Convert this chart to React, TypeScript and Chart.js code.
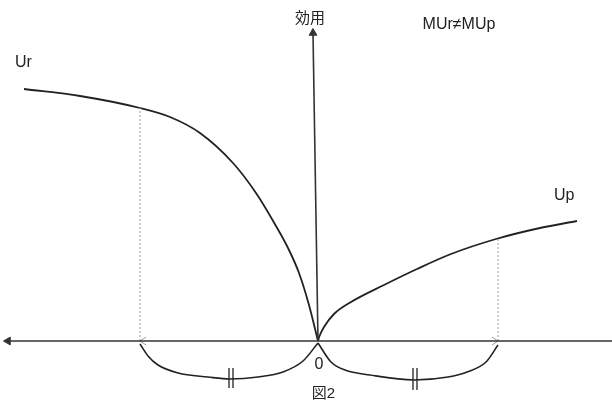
import React, { useEffect, useRef } from "react";
import { Chart, registerables } from "chart.js";

Chart.register(...registerables);

// Curves (x: quantity, origin at 0; y: utility)
const urX = [-294, -238, -178, -148, -118, -85, -62, -42, -29, -19, -9, 0];
const urY = [252, 245, 233, 224, 208, 178, 148, 115, 91, 68, 36, 0];
const upX = [0, 1.5, 6, 16, 33, 66, 99, 133, 178, 222, 259];
const upY = [0, 5, 14, 27, 39, 56, 72, 87, 102, 113, 120];

// Braces under the axis
const braceLX = [-178, -170, -160, -140, -110, -88, -60, -35, -15, 0];
const braceLY = [-3, -15, -24, -32, -36, -38, -36, -31, -20, -2];
const braceRX = [0, 13, 27, 52, 96, 130, 149, 168, 180];
const braceRY = [-2, -21, -29, -34, -39, -36, -31, -21, -4];
const tickMarksX = [-89, -85, 95, 99];
const tickMarksTop = [-27, -27, -27, -27];
const tickMarksBottom = [-47, -47, -49, -49];

// Guides
const guideX = [-178, 180];
const guideTop = [233, 104];

// Axes
const hAxisX = [-310, 294];
const vAxisTop = [-5, 308];

const labels = [
  { text: "効用", x: -8, y: 322, align: "center", base: "middle", size: 15 },
  { text: "MUr≠MUp", x: 141, y: 312, align: "center", base: "alphabetic", size: 16 },
  { text: "Ur", x: -303, y: 274, align: "left", base: "alphabetic", size: 16 },
  { text: "Up", x: 236, y: 141, align: "left", base: "alphabetic", size: 16 },
  { text: "0", x: 1, y: -28, align: "center", base: "alphabetic", size: 16 },
  { text: "図2", x: 5.5, y: -53, align: "center", base: "middle", size: 15 },
];

const zip = (xs: number[], ys: number[]) => xs.map((x, i) => ({ x, y: ys[i] }));

const labelPlugin = {
  id: "labels",
  afterDatasetsDraw(chart: any) {
    const { ctx, scales } = chart;
    ctx.save();
    ctx.fillStyle = "#222";
    for (const l of labels) {
      ctx.font = `${l.size}px "Liberation Sans", Arial, "Noto Sans CJK JP", sans-serif`;
      ctx.textAlign = l.align as CanvasTextAlign;
      ctx.textBaseline = l.base as CanvasTextBaseline;
      ctx.fillText(l.text, scales.x.getPixelForValue(l.x), scales.y.getPixelForValue(l.y));
    }
    ctx.restore();
  },
};

export default function App() {
  const ref = useRef<HTMLCanvasElement>(null);
  useEffect(() => {
    document.body.style.margin = "0";
    const curve = (data: any[], width = 1.8) => ({
      data,
      showLine: true,
      borderColor: "#222",
      borderWidth: width,
      pointRadius: 0,
      cubicInterpolationMode: "monotone" as const,
      fill: false,
    });
    const line = (data: any[], color: string, width: number, dash: number[] = []) => ({
      data,
      showLine: true,
      borderColor: color,
      borderWidth: width,
      borderDash: dash,
      pointRadius: 0,
      tension: 0,
      fill: false,
    });
    const datasets: any[] = [
      line([{ x: hAxisX[0], y: 0 }, { x: hAxisX[1], y: 0 }], "#333", 1.6),
      line([{ x: 0, y: 0 }, { x: vAxisTop[0], y: vAxisTop[1] }], "#333", 1.6),
      ...guideX.map((gx, i) => line([{ x: gx, y: 0 }, { x: gx, y: guideTop[i] }], "#999", 1, [2, 2])),
      line([{ x: guideX[0] + 6, y: 4 }, { x: guideX[0], y: 0 }, { x: guideX[0] + 6, y: -4 }], "#999", 1),
      line([{ x: guideX[1] - 6, y: 4 }, { x: guideX[1], y: 0 }, { x: guideX[1] - 6, y: -4 }], "#999", 1),
      curve(zip(urX, urY)),
      curve(zip(upX, upY)),
      curve(zip(braceLX, braceLY), 1.6),
      curve(zip(braceRX, braceRY), 1.6),
      ...tickMarksX.map((tx, i) =>
        line([{ x: tx, y: tickMarksTop[i] }, { x: tx, y: tickMarksBottom[i] }], "#222", 1.3)
      ),
      {
        data: [
          { x: hAxisX[0], y: 0 },
          { x: vAxisTop[0], y: vAxisTop[1] },
        ],
        showLine: false,
        pointStyle: "triangle",
        pointRadius: 4.5,
        pointRotation: [-90, -1],
        backgroundColor: "#333",
        borderColor: "#333",
        borderWidth: 1,
      },
    ];
    const chart = new Chart(ref.current!, {
      type: "scatter",
      data: { datasets },
      options: {
        animation: false,
        responsive: false,
        devicePixelRatio: 1,
        layout: { padding: 0, autoPadding: false },
        plugins: { legend: { display: false }, tooltip: { enabled: false } },
        scales: {
          x: { type: "linear", min: -318, max: 294, display: false },
          y: { type: "linear", min: -67, max: 341, display: false },
        },
      },
      plugins: [labelPlugin],
    });
    return () => chart.destroy();
  }, []);
  return (
    <div style={{ position: "absolute", left: 0, top: 0, width: 612, height: 408, background: "#fff" }}>
      <canvas ref={ref} width={612} height={408} />
    </div>
  );
}
